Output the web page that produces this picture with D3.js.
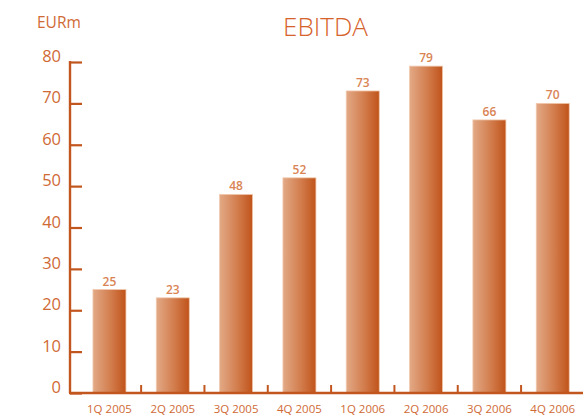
<!DOCTYPE html>
<html>
<head>
<meta charset="utf-8">
<script src="https://cdn.jsdelivr.net/npm/d3@7"></script>
<style>
  html, body { margin: 0; padding: 0; background: #fff; }
  svg { display: block; }
  text { font-family: "Open Sans", Lato, sans-serif; }
</style>
</head>
<body>
<div id="chart"></div>
<script>
// Quarterly EBITDA, EUR millions
const quarters = ["1Q 2005", "2Q 2005", "3Q 2005", "4Q 2005", "1Q 2006", "2Q 2006", "3Q 2006", "4Q 2006"];
const ebitda = [25, 23, 48, 52, 73, 79, 66, 70];
const yTicks = [0, 10, 20, 30, 40, 50, 60, 70, 80];

const W = 583, H = 416;
const axisColor = "#c2561f";
const labelColor = "#cf6a35";

const svg = d3.select("#chart").append("svg")
  .attr("width", W).attr("height", H);

const defs = svg.append("defs");
const grad = defs.append("linearGradient")
  .attr("id", "barGrad").attr("x1", "0%").attr("x2", "100%").attr("y1", "0%").attr("y2", "0%");
grad.append("stop").attr("offset", "0%").attr("stop-color", "#e2a986");
grad.append("stop").attr("offset", "55%").attr("stop-color", "#d27c4c");
grad.append("stop").attr("offset", "100%").attr("stop-color", "#c0531a");

const x = d3.scaleBand().domain(quarters).range([77.8, 584.4]).paddingInner(0).paddingOuter(0);
const y = d3.scaleLinear().domain([0, 80]).range([393, 62]);
const barW = 33;

// Title and unit
svg.append("text").attr("x", 325.5).attr("y", 35.5)
  .attr("text-anchor", "middle").attr("font-size", 26).attr("font-weight", 300)
  .attr("fill", "#d6622b").text("EBITDA");
svg.append("text").attr("x", 37).attr("y", 28)
  .attr("font-size", 15.5).attr("fill", labelColor).text("EURm");

// Bars
svg.selectAll("rect.bar").data(quarters).join("rect")
  .attr("class", "bar")
  .attr("x", d => x(d) + x.bandwidth() / 2 - barW / 2)
  .attr("width", barW)
  .attr("y", (d, i) => y(ebitda[i]))
  .attr("height", (d, i) => y(0) - y(ebitda[i]))
  .attr("fill", "url(#barGrad)")
  .attr("stroke", "#f0c8ad").attr("stroke-width", 0.8);

// Value labels
svg.selectAll("text.val").data(quarters).join("text")
  .attr("class", "val")
  .attr("x", d => x(d) + x.bandwidth() / 2)
  .attr("y", (d, i) => y(ebitda[i]) - 4)
  .attr("text-anchor", "middle").attr("font-size", 12).attr("font-weight", 600)
  .attr("fill", "#d98454")
  .text((d, i) => ebitda[i]);

// Y axis
const yAxis = d3.axisRight(y).tickValues(yTicks).tickSize(12).tickFormat("");
const gy = svg.append("g").attr("transform", "translate(70,0)").call(yAxis);
gy.select(".domain").remove();
gy.selectAll(".tick line").attr("stroke", axisColor).attr("stroke-width", 2.2);
svg.append("line").attr("x1", 70).attr("x2", 70).attr("y1", y(80) - 1).attr("y2", y(0))
  .attr("stroke", axisColor).attr("stroke-width", 2.4);
svg.selectAll("text.ytick").data(yTicks).join("text")
  .attr("class", "ytick")
  .attr("x", 61).attr("y", d => y(d))
  .attr("text-anchor", "end").attr("font-size", 16.5)
  .attr("fill", labelColor).text(d => d);

// X axis baseline and separators between quarters
svg.append("line").attr("x1", 69).attr("x2", W).attr("y1", y(0)).attr("y2", y(0))
  .attr("stroke", axisColor).attr("stroke-width", 2.4);
const sep = quarters.slice(1).map(q => x(q));
svg.selectAll("line.sep").data(sep).join("line")
  .attr("class", "sep")
  .attr("x1", d => d).attr("x2", d => d)
  .attr("y1", y(0)).attr("y2", y(0) - 8)
  .attr("stroke", axisColor).attr("stroke-width", 2);

// X labels
svg.selectAll("text.xl").data(quarters).join("text")
  .attr("class", "xl")
  .attr("x", d => x(d) + x.bandwidth() / 2)
  .attr("y", 413)
  .attr("text-anchor", "middle").attr("font-size", 11.5)
  .attr("fill", labelColor).text(d => d);
</script>
</body>
</html>
